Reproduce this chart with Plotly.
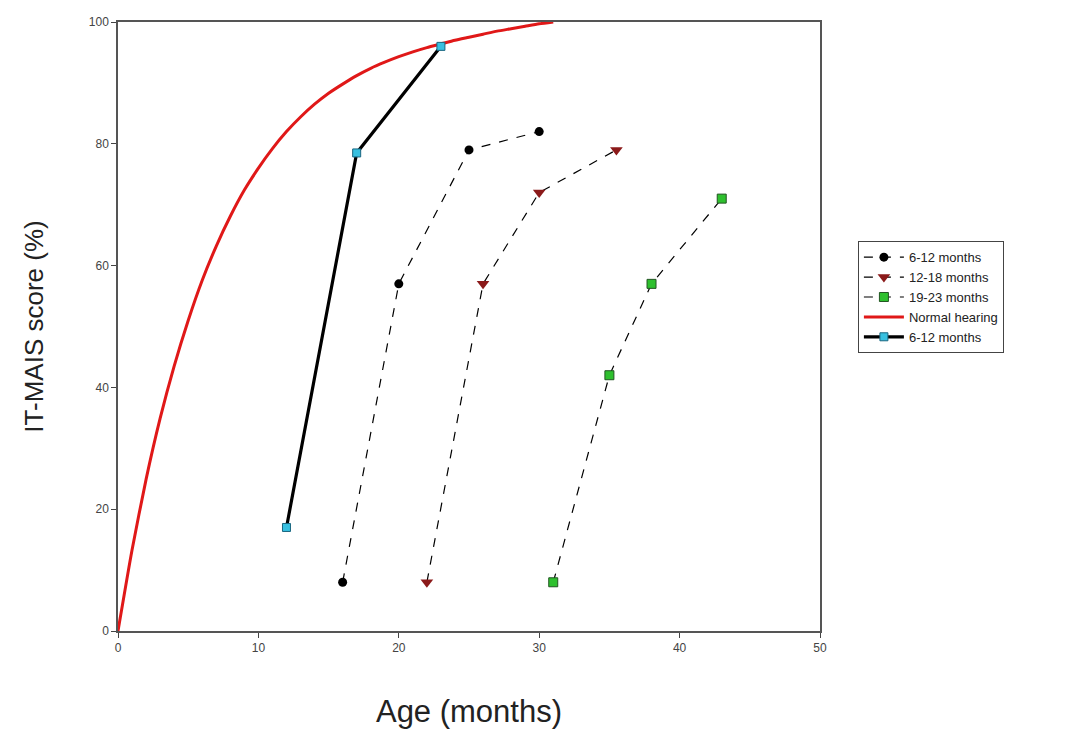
import plotly.graph_objects as go

# Normal hearing reference curve
nh_age = [0, 1, 2, 3, 4, 5, 6, 7, 8, 9, 10, 11, 12, 13, 14, 15, 16, 17, 18, 19, 20,
          21, 22, 23, 24, 25, 26, 27, 28, 29, 30, 31]
nh_score = [0, 13.3, 24.9, 34.9, 43.5, 51, 57.6, 63.2, 68.1, 72.4, 76, 79.2, 82, 84.4, 86.5,
            88.3, 89.8, 91.2, 92.4, 93.4, 94.3, 95.1, 95.8, 96.4, 97, 97.5, 98, 98.5,
            98.9, 99.3, 99.7, 100]

# Implant groups
g1_age = [16, 20, 25, 30]
g1_score = [8, 57, 79, 82]
g2_age = [22, 26, 30, 35.5]
g2_score = [8, 57, 72, 79]
g3_age = [31, 35, 38, 43]
g3_score = [8, 42, 57, 71]
g4_age = [12, 17, 23]
g4_score = [17, 78.5, 96]

x_ticks = [0, 10, 20, 30, 40, 50]
y_ticks = [0, 20, 40, 60, 80, 100]

fig = go.Figure()
fig.add_trace(go.Scatter(x=g1_age, y=g1_score, name="6-12 months", mode="lines+markers",
                         line=dict(color="black", width=1.2, dash="dash"),
                         marker=dict(symbol="circle", size=9, color="black")))
fig.add_trace(go.Scatter(x=g2_age, y=g2_score, name="12-18 months", mode="lines+markers",
                         line=dict(color="black", width=1.2, dash="dash"),
                         marker=dict(symbol="triangle-down", size=11, color="#8b1a1a")))
fig.add_trace(go.Scatter(x=g3_age, y=g3_score, name="19-23 months", mode="lines+markers",
                         line=dict(color="black", width=1.2, dash="dash"),
                         marker=dict(symbol="square", size=9, color="#2ec02e",
                                     line=dict(color="#225522", width=1))))
fig.add_trace(go.Scatter(x=nh_age, y=nh_score, name="Normal hearing", mode="lines",
                         line=dict(color="#e01818", width=3, shape="spline", smoothing=0.6)))
fig.add_trace(go.Scatter(x=g4_age, y=g4_score, name="6-12 months", mode="lines+markers",
                         line=dict(color="black", width=3.2),
                         marker=dict(symbol="square", size=8, color="#38c0e0",
                                     line=dict(color="#1a6680", width=1))))

axis_common = dict(showgrid=False, zeroline=False, showline=True, linecolor="#555555",
                   linewidth=1.5, mirror=True, ticks="outside", ticklen=5, tickwidth=1,
                   tickcolor="#444444",
                   tickfont=dict(family="Liberation Sans Narrow, Arial Narrow, Liberation Sans", size=12, color="#444444"))

fig.update_xaxes(range=[0, 50], tickvals=x_ticks, ticktext=[str(v) for v in x_ticks],
                 title=dict(text="Age (months)", font=dict(family="Liberation Sans, Arial", size=31, color="#222222"), standoff=46),
                 **axis_common)
fig.update_yaxes(range=[0, 100], tickvals=y_ticks, ticktext=[str(v) for v in y_ticks],
                 title=dict(text="IT-MAIS score (%)", font=dict(family="Liberation Sans, Arial", size=26, color="#222222"), standoff=38),
                 **axis_common)

fig.update_layout(
    width=1081, height=736,
    margin=dict(l=118, r=261, t=22, b=105),
    plot_bgcolor="white", paper_bgcolor="white",
    legend=dict(x=1.054, y=0.64, xanchor="left", yanchor="top",
                bordercolor="#444444", borderwidth=1, bgcolor="white",
                font=dict(family="Liberation Sans Narrow, Arial Narrow, Liberation Sans", size=13, color="#222222"),
                tracegroupgap=0, itemwidth=40),
)

fig.write_html("out.html")
